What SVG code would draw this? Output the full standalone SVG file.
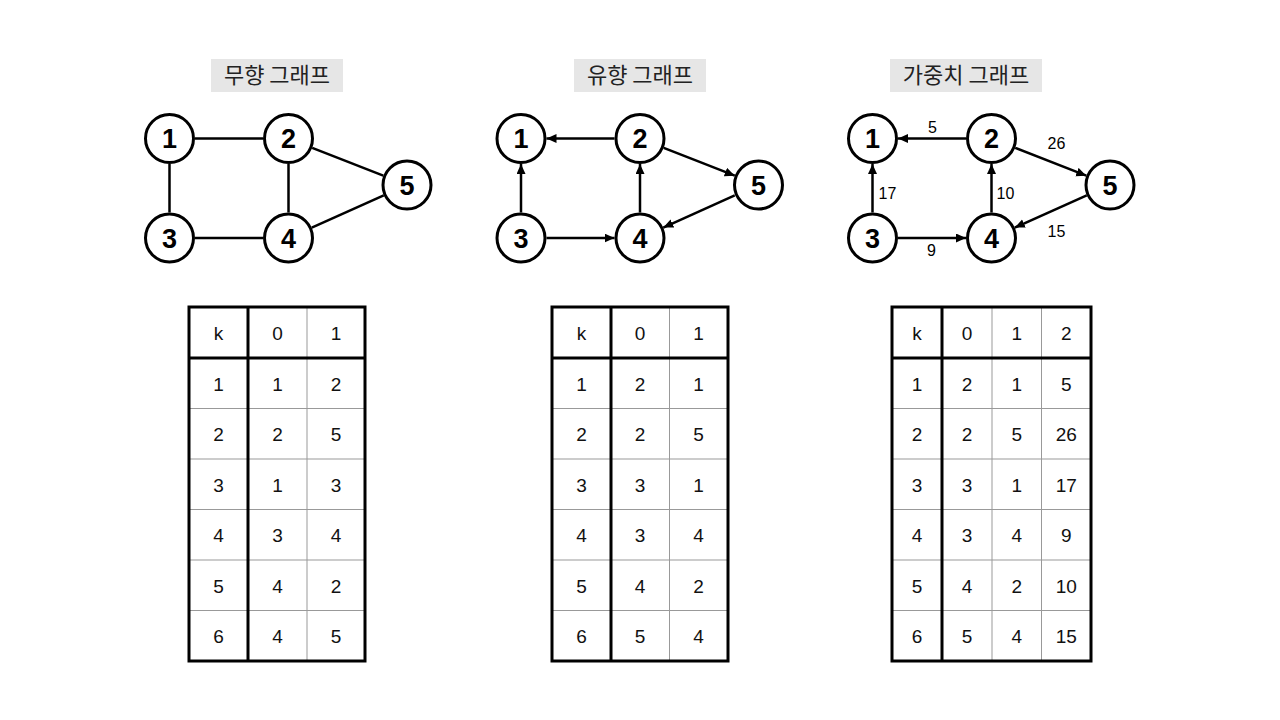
<svg xmlns="http://www.w3.org/2000/svg" width="1280" height="720" viewBox="0 0 1280 720">
<style>
.title-bg{fill:#e6e6e6}
.title{font-family:"Noto Sans CJK KR","Noto Sans",sans-serif;font-size:22px;fill:#222;text-anchor:middle}
.node circle{fill:#fff;stroke:#000;stroke-width:3}
.node text{font-family:"Liberation Sans",Arial,sans-serif;font-weight:bold;font-size:27px;text-anchor:middle;fill:#000}
.edge{stroke:#000;stroke-width:2.5;fill:none}
.arrow{stroke:#000;stroke-width:2.5;fill:none;marker-end:url(#ah)}
.wt{font-family:"Liberation Sans",Arial,sans-serif;font-size:16px;text-anchor:middle;fill:#000}
.thin{stroke:#999;stroke-width:1}
.thick{stroke:#000;stroke-width:3;fill:none}
.cell{font-family:"Liberation Sans",Arial,sans-serif;font-size:19px;text-anchor:middle;fill:#111}
</style>
<defs>
<marker id="ah" markerUnits="userSpaceOnUse" markerWidth="11" markerHeight="10" refX="10" refY="4.5" orient="auto">
<path d="M0,0 L10,4.5 L0,9 z" fill="#000"/>
</marker>
</defs>
<rect width="1280" height="720" fill="#fff"/>

<!-- Titles -->
<g id="title1"><rect class="title-bg" x="211" y="59" width="132" height="33"/><text class="title" x="277" y="83">무향 그래프</text></g>
<g id="title2"><rect class="title-bg" x="574" y="59" width="132" height="33"/><text class="title" x="640" y="83">유향 그래프</text></g>
<g id="title3"><rect class="title-bg" x="890" y="59" width="152" height="33"/><text class="title" x="966" y="83">가중치 그래프</text></g>

<!-- Connectors -->
<g id="connectors">
<line class="edge" x1="195" y1="138.5" x2="263" y2="138.5"/>
<line class="edge" x1="169.5" y1="164" x2="169.5" y2="212.5"/>
<line class="edge" x1="288.5" y1="164" x2="288.5" y2="212.5"/>
<line class="edge" x1="195" y1="238" x2="263" y2="238"/>
<line class="edge" x1="312.24" y1="147.81" x2="383.26" y2="175.69"/>
<line class="edge" x1="311.78" y1="227.59" x2="383.72" y2="195.41"/>

<line class="arrow" x1="614.5" y1="138.5" x2="546.5" y2="138.5"/>
<line class="arrow" x1="521" y1="212.5" x2="521" y2="164"/>
<line class="arrow" x1="640" y1="212.5" x2="640" y2="164"/>
<line class="arrow" x1="546.5" y1="238" x2="614.5" y2="238"/>
<line class="arrow" x1="663.74" y1="147.81" x2="734.76" y2="175.69"/>
<line class="arrow" x1="734.72" y1="195.41" x2="663.28" y2="227.59"/>

<line class="arrow" x1="966" y1="138.5" x2="898" y2="138.5"/>
<line class="arrow" x1="872.5" y1="212.5" x2="872.5" y2="164"/>
<line class="arrow" x1="991.5" y1="212.5" x2="991.5" y2="164"/>
<line class="arrow" x1="898" y1="238" x2="966" y2="238"/>
<line class="arrow" x1="1015.24" y1="147.81" x2="1086.26" y2="175.69"/>
<line class="arrow" x1="1086.72" y1="195.41" x2="1014.78" y2="227.59"/>

<text class="wt" x="932.5" y="133">5</text>
<text class="wt" x="1056.5" y="149">26</text>
<text class="wt" x="887.5" y="199">17</text>
<text class="wt" x="1005.5" y="199">10</text>
<text class="wt" x="931.5" y="256">9</text>
<text class="wt" x="1056.5" y="237">15</text>
</g>

<!-- Graph 1 nodes -->
<g id="g1n1" class="node"><circle cx="169.5" cy="138.5" r="24"/><text x="169.5" y="148">1</text></g>
<g id="g1n2" class="node"><circle cx="288.5" cy="138.5" r="24"/><text x="288.5" y="148">2</text></g>
<g id="g1n3" class="node"><circle cx="169.5" cy="238" r="24"/><text x="169.5" y="247.5">3</text></g>
<g id="g1n4" class="node"><circle cx="288.5" cy="238" r="24"/><text x="288.5" y="247.5">4</text></g>
<g id="g1n5" class="node"><circle cx="407" cy="185" r="24"/><text x="407" y="194.5">5</text></g>

<!-- Graph 2 nodes -->
<g id="g2n1" class="node"><circle cx="521" cy="138.5" r="24"/><text x="521" y="148">1</text></g>
<g id="g2n2" class="node"><circle cx="640" cy="138.5" r="24"/><text x="640" y="148">2</text></g>
<g id="g2n3" class="node"><circle cx="521" cy="238" r="24"/><text x="521" y="247.5">3</text></g>
<g id="g2n4" class="node"><circle cx="640" cy="238" r="24"/><text x="640" y="247.5">4</text></g>
<g id="g2n5" class="node"><circle cx="758.5" cy="185" r="24"/><text x="758.5" y="194.5">5</text></g>

<!-- Graph 3 nodes -->
<g id="g3n1" class="node"><circle cx="872.5" cy="138.5" r="24"/><text x="872.5" y="148">1</text></g>
<g id="g3n2" class="node"><circle cx="991.5" cy="138.5" r="24"/><text x="991.5" y="148">2</text></g>
<g id="g3n3" class="node"><circle cx="872.5" cy="238" r="24"/><text x="872.5" y="247.5">3</text></g>
<g id="g3n4" class="node"><circle cx="991.5" cy="238" r="24"/><text x="991.5" y="247.5">4</text></g>
<g id="g3n5" class="node"><circle cx="1110" cy="185" r="24"/><text x="1110" y="194.5">5</text></g>

<!-- Table 1 -->
<g id="table1">
<line class="thin" x1="307" y1="307" x2="307" y2="661"/>
<line class="thin" x1="189" y1="408.5" x2="365" y2="408.5"/>
<line class="thin" x1="189" y1="459" x2="365" y2="459"/>
<line class="thin" x1="189" y1="509.5" x2="365" y2="509.5"/>
<line class="thin" x1="189" y1="560" x2="365" y2="560"/>
<line class="thin" x1="189" y1="610.5" x2="365" y2="610.5"/>
<rect class="thick" x="189" y="307" width="176" height="354"/>
<line class="thick" x1="189" y1="358" x2="365" y2="358"/>
<line class="thick" x1="248" y1="307" x2="248" y2="661"/>
<text class="cell" x="218.5" y="339.5">k</text><text class="cell" x="277.5" y="339.5">0</text><text class="cell" x="336" y="339.5">1</text>
<text class="cell" x="218.5" y="390.5">1</text><text class="cell" x="277.5" y="390.5">1</text><text class="cell" x="336" y="390.5">2</text>
<text class="cell" x="218.5" y="441">2</text><text class="cell" x="277.5" y="441">2</text><text class="cell" x="336" y="441">5</text>
<text class="cell" x="218.5" y="491.5">3</text><text class="cell" x="277.5" y="491.5">1</text><text class="cell" x="336" y="491.5">3</text>
<text class="cell" x="218.5" y="542">4</text><text class="cell" x="277.5" y="542">3</text><text class="cell" x="336" y="542">4</text>
<text class="cell" x="218.5" y="592.5">5</text><text class="cell" x="277.5" y="592.5">4</text><text class="cell" x="336" y="592.5">2</text>
<text class="cell" x="218.5" y="643">6</text><text class="cell" x="277.5" y="643">4</text><text class="cell" x="336" y="643">5</text>
</g>

<!-- Table 2 -->
<g id="table2">
<line class="thin" x1="669.5" y1="307" x2="669.5" y2="661"/>
<line class="thin" x1="552" y1="408.5" x2="728" y2="408.5"/>
<line class="thin" x1="552" y1="459" x2="728" y2="459"/>
<line class="thin" x1="552" y1="509.5" x2="728" y2="509.5"/>
<line class="thin" x1="552" y1="560" x2="728" y2="560"/>
<line class="thin" x1="552" y1="610.5" x2="728" y2="610.5"/>
<rect class="thick" x="552" y="307" width="176" height="354"/>
<line class="thick" x1="552" y1="358" x2="728" y2="358"/>
<line class="thick" x1="611" y1="307" x2="611" y2="661"/>
<text class="cell" x="581.5" y="339.5">k</text><text class="cell" x="640" y="339.5">0</text><text class="cell" x="698.5" y="339.5">1</text>
<text class="cell" x="581.5" y="390.5">1</text><text class="cell" x="640" y="390.5">2</text><text class="cell" x="698.5" y="390.5">1</text>
<text class="cell" x="581.5" y="441">2</text><text class="cell" x="640" y="441">2</text><text class="cell" x="698.5" y="441">5</text>
<text class="cell" x="581.5" y="491.5">3</text><text class="cell" x="640" y="491.5">3</text><text class="cell" x="698.5" y="491.5">1</text>
<text class="cell" x="581.5" y="542">4</text><text class="cell" x="640" y="542">3</text><text class="cell" x="698.5" y="542">4</text>
<text class="cell" x="581.5" y="592.5">5</text><text class="cell" x="640" y="592.5">4</text><text class="cell" x="698.5" y="592.5">2</text>
<text class="cell" x="581.5" y="643">6</text><text class="cell" x="640" y="643">5</text><text class="cell" x="698.5" y="643">4</text>
</g>

<!-- Table 3 -->
<g id="table3">
<line class="thin" x1="992" y1="307" x2="992" y2="661"/>
<line class="thin" x1="1041.5" y1="307" x2="1041.5" y2="661"/>
<line class="thin" x1="892" y1="408.5" x2="1091" y2="408.5"/>
<line class="thin" x1="892" y1="459" x2="1091" y2="459"/>
<line class="thin" x1="892" y1="509.5" x2="1091" y2="509.5"/>
<line class="thin" x1="892" y1="560" x2="1091" y2="560"/>
<line class="thin" x1="892" y1="610.5" x2="1091" y2="610.5"/>
<rect class="thick" x="892" y="307" width="199" height="354"/>
<line class="thick" x1="892" y1="358" x2="1091" y2="358"/>
<line class="thick" x1="942" y1="307" x2="942" y2="661"/>
<text class="cell" x="917" y="339.5">k</text><text class="cell" x="967" y="339.5">0</text><text class="cell" x="1016.75" y="339.5">1</text><text class="cell" x="1066.25" y="339.5">2</text>
<text class="cell" x="917" y="390.5">1</text><text class="cell" x="967" y="390.5">2</text><text class="cell" x="1016.75" y="390.5">1</text><text class="cell" x="1066.25" y="390.5">5</text>
<text class="cell" x="917" y="441">2</text><text class="cell" x="967" y="441">2</text><text class="cell" x="1016.75" y="441">5</text><text class="cell" x="1066.25" y="441">26</text>
<text class="cell" x="917" y="491.5">3</text><text class="cell" x="967" y="491.5">3</text><text class="cell" x="1016.75" y="491.5">1</text><text class="cell" x="1066.25" y="491.5">17</text>
<text class="cell" x="917" y="542">4</text><text class="cell" x="967" y="542">3</text><text class="cell" x="1016.75" y="542">4</text><text class="cell" x="1066.25" y="542">9</text>
<text class="cell" x="917" y="592.5">5</text><text class="cell" x="967" y="592.5">4</text><text class="cell" x="1016.75" y="592.5">2</text><text class="cell" x="1066.25" y="592.5">10</text>
<text class="cell" x="917" y="643">6</text><text class="cell" x="967" y="643">5</text><text class="cell" x="1016.75" y="643">4</text><text class="cell" x="1066.25" y="643">15</text>
</g>
</svg>
